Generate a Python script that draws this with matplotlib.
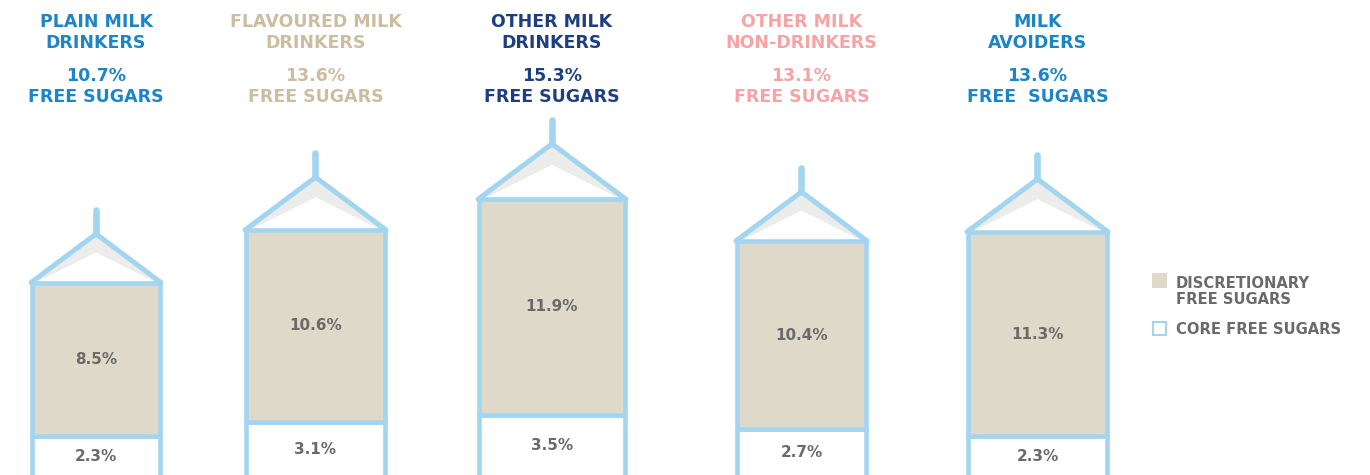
import matplotlib.pyplot as plt
from matplotlib.patches import Rectangle, Polygon

# groups and their free sugar shares (% of energy)
groups = ['PLAIN MILK\nDRINKERS', 'FLAVOURED MILK\nDRINKERS', 'OTHER MILK\nDRINKERS',
          'OTHER MILK\nNON-DRINKERS', 'MILK\nAVOIDERS']
total = ['10.7%', '13.6%', '15.3%', '13.1%', '13.6%']
sugar_word = ['FREE SUGARS', 'FREE SUGARS', 'FREE SUGARS', 'FREE SUGARS', 'FREE  SUGARS']
discretionary = [8.5, 10.6, 11.9, 10.4, 11.3]
core = [2.3, 3.1, 3.5, 2.7, 2.3]

head_colors = ['#1b85c7', '#cbbd9f', '#1e3f7f', '#f5a3a3', '#1b85c7']

# carton placement (pixels across the figure)
left = [32, 246, 479, 737, 968]
width = [128, 139, 146, 129, 139]

W, H = 1370, 475
PX = 18.1          # pixels per percentage point
BASE = 478         # pixel row of 0 %

blue = '#a3d5f1'
beige = '#dfd9c9'
roofgrey = '#ecedeb'
grey = '#6a6a6a'

plt.rcParams['font.family'] = ['DejaVu Sans']

fig = plt.figure(figsize=(W / 100, H / 100), dpi=100)
ax = fig.add_axes([0, 0, 1, 1])
ax.set_xlim(0, W)
ax.set_ylim((BASE - H) / PX, BASE / PX)
ax.axis('off')

lw = 3.3
for i in range(len(groups)):
    x0, w = left[i], width[i]
    cx = x0 + w / 2
    c, d = core[i], discretionary[i]
    top = c + d
    # stacked body
    ax.add_patch(Rectangle((x0, -2), w, c + 2, facecolor='white', edgecolor=blue,
                           lw=lw, joinstyle='miter', zorder=2))
    ax.add_patch(Rectangle((x0, c), w, d, facecolor=beige, edgecolor=blue,
                           lw=lw, joinstyle='miter', zorder=2))
    # roof
    rh = 0.38 * w / PX
    ax.add_patch(Polygon([(x0, top), (cx, top + rh), (x0 + w, top)],
                         closed=True, facecolor=roofgrey, edgecolor='none', zorder=1))
    ax.add_patch(Polygon([(x0 + 4, top), (cx, top + rh * 0.62), (x0 + w - 4, top)],
                         closed=True, facecolor='white', edgecolor='none', zorder=1))
    ax.plot([x0 - 1, cx, x0 + w + 1], [top, top + rh, top], color=blue, lw=lw + 0.3,
            solid_joinstyle='miter', solid_capstyle='round', zorder=3)
    # spout
    ax.plot([cx, cx], [top + rh, top + rh + 24 / PX], color=blue, lw=4.8,
            solid_capstyle='round', zorder=3)

    # segment values
    ax.text(cx, c + d / 2, f'{d}%', ha='center', va='center', fontsize=11,
            fontweight='bold', color=grey, zorder=4)
    ax.text(cx, c / 2 + 0.05, f'{c}%', ha='center', va='center', fontsize=11,
            fontweight='bold', color=grey, zorder=4)

    # headings
    l1, l2 = groups[i].split('\n')
    for txt, yp in [(l1, 22), (l2, 43), (total[i], 76), (sugar_word[i], 97)]:
        fig.text(cx / W, 1 - yp / H, txt, ha='center', va='center', fontsize=12.5,
                 fontweight='bold', color=head_colors[i])

# legend
ax.add_patch(Rectangle((1152, (BASE - 288) / PX), 15, 15 / PX, facecolor=beige,
                       edgecolor='none'))
ax.add_patch(Rectangle((1153, (BASE - 335) / PX), 13, 13 / PX, facecolor='white',
                       edgecolor=blue, lw=1.5))
fig.text(1176 / W, 1 - 283 / H, 'DISCRETIONARY', ha='left', va='center', fontsize=10.6,
         fontweight='bold', color=grey)
fig.text(1176 / W, 1 - 299 / H, 'FREE SUGARS', ha='left', va='center', fontsize=10.6,
         fontweight='bold', color=grey)
fig.text(1176 / W, 1 - 329 / H, 'CORE FREE SUGARS', ha='left', va='center', fontsize=10.6,
         fontweight='bold', color=grey)

fig.savefig('out.png', dpi=100)
